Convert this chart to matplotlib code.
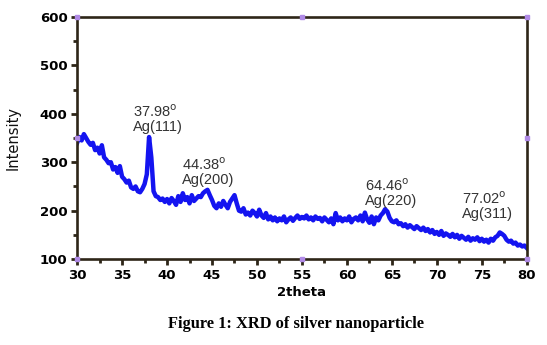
import matplotlib
matplotlib.use('Agg')
import matplotlib.pyplot as plt
from matplotlib.ticker import MultipleLocator
import numpy as np

# intensity, one value every 0.25 deg from 30 to 80
intensity = [
    340, 352, 345, 358, 350,
    342, 336, 340, 325, 330, 318, 335, 310,
    305, 298, 300, 285, 290, 278, 292, 270, 265, 258, 262, 248,
    245, 250, 240, 238, 245, 255, 275,
    352, 310, 240, 230,
    228, 222, 225, 218, 224, 215, 226, 220, 212,
    230, 218, 236, 222, 228, 215, 232, 220,
    225, 230, 228, 236, 240, 243, 232,
    222, 210, 205, 215, 208, 220, 212, 205, 218,
    225, 232, 215, 200,
    198, 205, 192, 196, 190, 200, 195, 188,
    202, 190, 185, 195, 182, 188, 180, 186,
    178, 184, 180, 188, 176, 182, 186, 179, 185, 190, 183, 187,
    184, 190, 182, 186, 180, 188, 183, 185, 178, 186, 181, 176,
    184, 172, 195, 180, 186, 178, 184, 180, 188, 176, 183, 186,
    180, 190, 178, 196, 182, 175, 188, 172, 186, 180, 190,
    195, 203, 198, 185, 178,
    176, 180, 172, 174, 168, 172, 165, 170, 166, 162, 168, 164,
    160, 165, 158, 162, 155, 160, 152, 156, 150, 158, 148, 153,
    150, 146, 152, 145, 150, 142, 148, 144, 140, 146, 138, 143,
    140, 145, 137, 142, 136, 140, 134, 142, 138, 145, 148, 155,
    152, 148, 140, 136, 138, 132, 134, 128, 130, 126, 128, 123,
]
two_theta = np.linspace(30, 80, len(intensity))

peak_angles = ['37.98', '44.38', '64.46', '77.02']
peak_planes = ['Ag(111)', 'Ag(200)', 'Ag(220)', 'Ag(311)']
label_pos = [(36.2, 422), (41.7, 313), (62.0, 269), (72.8, 242)]

xlim = (30, 80)
ylim = (100, 600)
edge = '#2e2618'

fig = plt.figure(figsize=(5.47, 3.45), dpi=100)
ax = fig.add_axes([0.141, 0.249, 0.822, 0.702])

ax.plot(two_theta, intensity, color='#1414f0', lw=3.2, solid_joinstyle='round')

for ang, plane, (lx, ly) in zip(peak_angles, peak_planes, label_pos):
    ax.text(lx, ly, ang + r'$^\mathrm{o}$' + '\n' + plane, fontsize=10.5,
            family='Liberation Sans', color='#333333', va='top', ha='left',
            linespacing=1.05)

ax.set_xlim(*xlim)
ax.set_ylim(*ylim)
ax.xaxis.set_major_locator(MultipleLocator(5))
ax.xaxis.set_minor_locator(MultipleLocator(2.5))
ax.yaxis.set_major_locator(MultipleLocator(100))
ax.yaxis.set_minor_locator(MultipleLocator(50))
ax.tick_params(which='both', direction='out', color=edge, width=2)
ax.tick_params(which='major', length=4, pad=3)
ax.tick_params(which='minor', length=3)
for lab in ax.get_xticklabels() + ax.get_yticklabels():
    lab.set_fontweight('bold')
    lab.set_fontsize(9.5)
    lab.set_family('DejaVu Sans')

for sp in ax.spines.values():
    sp.set_color(edge)
    sp.set_linewidth(1.9)

# little handles at corners and midpoints of the frame
xm = sum(xlim) / 2
ym = sum(ylim) / 2
hx = [xlim[0], xm, xlim[1], xlim[0], xm, xlim[1], xlim[0], xlim[1]]
hy = [ylim[0], ylim[0], ylim[0], ylim[1], ylim[1], ylim[1], ym, ym]
ax.plot(hx, hy, ls='none', marker='s', ms=3.5, color='#b08ae6', clip_on=False, zorder=5)

ax.set_xlabel('2theta', fontsize=9.5, fontweight='bold', family='DejaVu Sans', labelpad=3)
ax.set_ylabel('Intensity', fontsize=10.5, family='Liberation Sans Narrow', color='#111111',
              labelpad=14)

fig.text(0.541, 0.062, 'Figure 1: XRD of silver nanoparticle', ha='center', va='center',
         fontsize=11.8, fontweight='bold', family='Liberation Serif')

fig.savefig('out.png', dpi=100)
